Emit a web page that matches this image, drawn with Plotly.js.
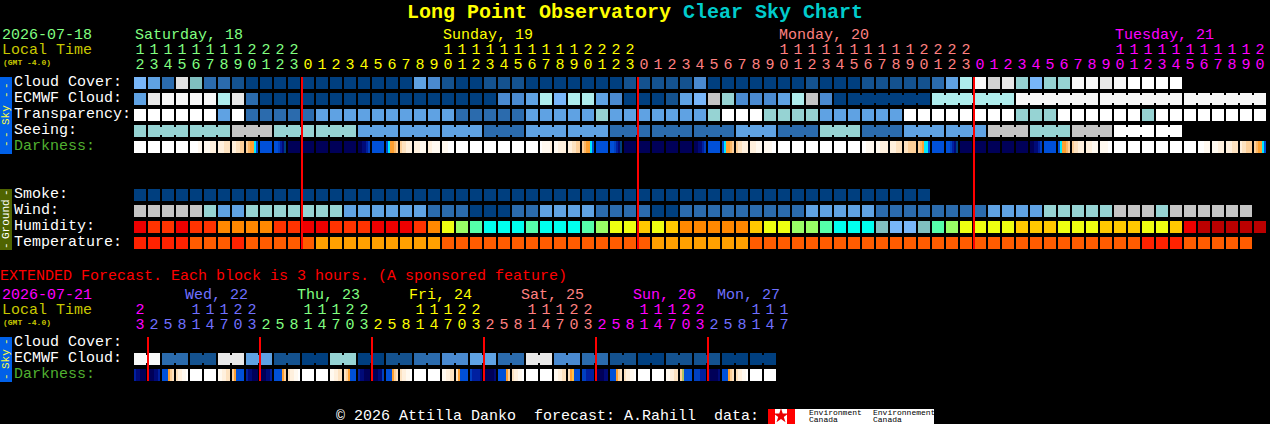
<!DOCTYPE html>
<html><head><meta charset="utf-8">
<script src="https://cdn.plot.ly/plotly-3.0.1.min.js"></script>
<style>html,body{margin:0;padding:0;background:#000;overflow:hidden}#c{width:1270px;height:424px}</style>
</head><body><div id="c"></div>
<script>
// ---------- data (colour class of each block) ----------
const cloudCover = "B5 B4 B2 L2 T1 B2 B2 B1 B0 B0 B0 B0 B0 B0 B0 B0 B0 B0 B0 B0 B4 B3 B1 B0 B0 B1 B1 B1 B0 B0 B0 B0 B0 B0 B0 B1 B1 B1 B1 B1 B3 B0 B0 B0 B0 B0 B0 B0 B1 B0 B0 B0 B1 B1 B1 B1 B1 B2 B4 T3 F GL L T2 B5 T2 T2 F F L F W W W W".split(" ");
const ecmwfCloud = "B4 L F F F F T3 L B2 B0 B0 B0 B0 B0 B0 B0 B0 B0 B0 B0 B0 B0 B0 B0 B0 B0 B3 B3 B4 T3 B5 T3 T3 B4 B3 B0 B0 B0 B1 B4 B5 G T2 B3 B3 B3 B4 T3 G B3 B0 B0 B0 B0 B0 B0 B0 T3 T3 T3 T3 T3 T3 F F F F F F F F F F F F F F F F F F".split(" ");
const transparency = "W W W W W W B4 W B2 B2 B2 B2 B2 B4 B4 B4 B4 B4 B4 B4 B4 B4 B4 B2 B2 B2 B2 B2 B4 B4 B4 B4 B4 T2 B4 B4 B4 B4 B4 B4 B4 T2 W W W T2 T2 T2 T2 B4 B4 B4 B4 B4 B4 W W W W W W W W T2 T2 T2 W W W W W W T2 W W W W W W W W".split(" ");
const seeing = "T2 T2 T2 T2 T2 T2 T2 G G G T2 T2 T2 T2 T2 T2 B4 B4 B4 B4 B4 B4 B4 B4 B4 B2 B2 B2 B4 B4 B4 B4 B4 B4 B2 B2 B2 B2 B2 B2 B2 B2 B2 B4 B4 B4 B2 B2 B2 T2 T2 T2 B2 B2 B2 B4 B4 B4 B4 B4 B4 G G G T2 T2 T2 G G G W W W W W".split(" ");
const darkness = ["WWWWWW","WWWWWW","WWWWWW","WWWWWW","WWWWaa","aaabbb","bbbccc","bbccdd","deffhi","iiiiii","iijkln","mmmmmm",
 "mmmmmm","mmmmmm","mmmmmm","mmmmmm","mmllkj","iiiiii","ihffed","dccbbb","bbbaaa","bbaaaa","aaaWWW","WWWWWW",
 "WWWWWW","WWWWWW","WWWWWW","WWWWWW","WWWWWW","Waaaab","aabbbb","bbccdd","deffhi","iiiiii","iijkln","mmmmmm",
 "mmmmmm","mmmmmm","mmmmmm","mmmmmm","mmllkj","iiiiii","ihffed","dccbbb","bbbaaa","aaaaWW","WWWWWW","WWWWWW",
 "WWWWWW","WWWWWW","WWWWWW","WWWWWW","WWaaaa","aabbbb","bbbccc","ccdddd","defhhi","iiiiii","iijkln","mmmmmm",
 "mmmmmm","mmmmmm","mmmmmm","mmmmmm","mmllkj","iiiiii","ihffed","dccbbb","bbbaaa","aaaaWW","WWWWWW","WWWWWW",
 "WWWWWW","WWWWWW","WWWWWW","WWWWWW","WWWaaa","aaabbb","bbbccc","bccddd","deffhi"];
const smoke = "B0 B0 B0 B0 B0 B0 B0 B0 B0 B0 B0 B0 B0 B0 B0 B0 B0 B0 B0 B0 B0 B0 B0 B0 B0 B0 B0 B0 B0 B0 B0 B0 B0 B0 B0 B0 B0 B0 B0 B0 B0 B0 B0 B0 B0 B0 B0 B0 B0 B0 B0 B0 B0 B0 B0 B0 B0".split(" ");
const wind = "G G G G G T2 B4 B4 T2 T2 T2 T2 T2 T2 T2 B4 B4 B4 B4 B4 B4 B2 B2 B2 B0 B0 B0 B2 B2 B4 B4 B4 B4 B2 B2 B2 B2 B0 B0 B2 B2 B2 B2 B2 B2 B2 B2 B2 B4 B4 B4 B4 B4 B2 B2 B2 B2 B2 B2 B2 B2 B4 B4 B4 B4 T2 T2 T2 T2 T2 G G G T2 G G G G G G".split(" ");
const humidity = "R1 R2 R2 R1 R2 R2 O O O O R2 R2 R1 R1 R2 R2 R2 R1 R1 R1 R2 O Y2 LG SG C C C SG C C C SG LG Y2 Y2 Y1 Y2 Y1 O O O O O Y1 Y2 Y2 LG LG SG C C C T1 B5 B5 T1 SG LG Y2 Y2 Y2 Y2 Y1 Y1 Y1 Y2 Y2 Y2 Y1 Y1 Y1 Y2 Y2 Y1 R1 DR DR DR DR DR".split(" ");
const temperature = "TR TR TR TR TO TO TO TR TO TO TO TO TO TA TA TA TA TA TA TA TA TA TO TO TO TO TO TO TO TO TO TO TO TO TO TO TO TA TA TA TA TA TA TA TO TO TO TO TO TO TO TO TO TO TO TO TO TO TO TO TO TO TO TO TO TO TO TO TO TO TO TO TR TR TR TO TO TO TO TO".split(" ");
const extEcmwf = "F F B2 B2 B1 B1 L L B4 B4 B1 B1 B0 B0 T2 T2 B0 B0 B1 B1 B2 B2 B3 B3 B4 B4 B2 B2 L L B3 B3 B2 B2 B1 B1 B0 B0 B1 B1 B1 B1 B0 B0 B0 B0".split(" ");
const extDarkness = ["kllmmm","mmmllk","iiifdc","cbbaaW","WWWWWW","WWWWWW","aabbcc","dfiiii",
 "kllmmm","mmmllk","iiiifd","cbbaaW","WWWWWW","WWWWWW","aabbcc","cdfiii",
 "kllmmm","mmmllj","iiifdc","cbbaaW","WWWWWW","WWWWWW","aabbcc","cfiiii",
 "jkkkkl","mmmmml","iiiifd","cbbaaW","WWWWWW","WWWWWW","aabbcc","cfgiii",
 "jjkkkk","mmmmll","iiifdc","cbbaaW","WWWWWW","WWWWWW","aabbcc","dyiiii",
 "jjjkkk","lmmmml","iiifdc","cbbaaW","WWWWWW","WWWWWW"];
const seeingGroups = [[1,3],[4,6],[7,9],[10,12],[13,15],[16,18],[19,21],[22,24],[25,27],[28,30],[31,33],[34,36],[37,39],[40,42],[43,45],[46,48],[49,51],[52,54],[55,57],[58,60],[61,63],[64,66],[67,69],[70,72],[73,74]];
const ecmwfGroups = [[51,56],[57,62],[63,68],[69,74],[75,80]];
const extEcmwfGroups = [[0,1],[2,3],[4,5],[6,7],[8,9],[10,11],[12,13],[14,15],[16,17],[18,19],[20,21],[22,23],[24,25],[26,27],[28,29],[30,31],[32,33],[34,35],[36,37],[38,39],[40,41],[42,43],[44,45]];
const hoursMain = [12,13,14,15,16,17,18,19,20,21,22,23,0,1,2,3,4,5,6,7,8,9,10,11,12,13,14,15,16,17,18,19,20,21,22,23,0,1,2,3,4,5,6,7,8,9,10,11,12,13,14,15,16,17,18,19,20,21,22,23,0,1,2,3,4,5,6,7,8,9,10,11,12,13,14,15,16,17,18,19,20];
const hoursExt  = [23,2,5,8,11,14,17,20,23,2,5,8,11,14,17,20,23,2,5,8,11,14,17,20,23,2,5,8,11,14,17,20,23,2,5,8,11,14,17,20,23,2,5,8,11,14,17];
const midnightMain = [12,36,60];
const midnightExt = [1,9,17,25,33,41];
const dayLabelsMain = [["Saturday, 18",135,"#80FF80"],["Sunday, 19",443,"#FFFF00"],["Monday, 20",779,"#FF8080"],["Tuesday, 21",1115,"#FF00FF"]];
const dayLabelsExt = [["Wed, 22",185,"#7070FF"],["Thu, 23",297,"#80FF80"],["Fri, 24",409,"#FFFF00"],["Sat, 25",521,"#FF8080"],["Sun, 26",633,"#FF00FF"],["Mon, 27",717,"#7070FF"]];

// ---------- palette ----------
const palette = {B0:"#003F7F",B1:"#14528F",B2:"#2B6BAD",B3:"#4A8AD0",B4:"#5FA2E3",B5:"#78B6F9",T1:"#80BFBF",T2:"#96D3D3",T3:"#AEECEC",G:"#C4C4C4",GL:"#D2D2D2",L2:"#E0E0E0",L:"#E8E8E8",F:"#F8F8F8",W:"#FFFFFF",
 R1:"#EE0000",R2:"#FF3300",O:"#FF8800",Y1:"#FFC800",Y2:"#EEFF11",LG:"#99FF66",SG:"#55FFAA",C:"#00FFEE",DR:"#BB0000",TR:"#FF2200",TO:"#FF5C00",TA:"#FFA000",
 a:"#FFF9F0",b:"#FFF0DD",c:"#FDE2C0",d:"#FDD09A",e:"#FBB868",f:"#FFA030",g:"#FFC040",h:"#00E8FF",i:"#0050D8",j:"#0040C0",k:"#0020A0",l:"#000A78",m:"#000058",y:"#B0C060"};
const keys = Object.keys(palette), N = keys.length;
const zOf = k => keys.indexOf(k)+0.5;
const colorscale = [];
keys.forEach((k,n)=>{colorscale.push([n/N,palette[k]]);colorscale.push([(n+1)/N,palette[k]]);});

// ---------- geometry ----------
const X0 = 140, PITCH = 14, CELL = 12, LINK_H = 8;
const base = {type:"heatmap",colorscale,zmin:0,zmax:N,showscale:false,hoverinfo:"skip",xaxis:"x",yaxis:"y"};
const traces = [];
function row(vals,yc){traces.push({...base,z:[vals.map(zOf)],x0:X0,dx:PITCH,y0:yc,dy:CELL,xgap:PITCH-CELL});}
function links(vals,groups,yc){
  const z = vals.map(()=>null);
  groups.forEach(([a,b])=>{for(let i=a;i<b;i++) z[i]=zOf(vals[i]);});
  traces.push({...base,z:[z],x0:X0+PITCH/2,dx:PITCH,y0:yc,dy:LINK_H,xgap:CELL});
}
function fineRow(cells,yc){
  const xs=[],z=[];
  cells.forEach((s,i)=>{const left=X0-CELL/2+PITCH*i;
    s.split("").forEach((ch,k)=>{xs.push(left+k*CELL/s.length);z.push(zOf(ch));});
    xs.push(left+CELL);z.push(null);});
  xs.push(X0-CELL/2+PITCH*cells.length);
  traces.push({...base,z:[z],x:xs,y0:yc,dy:CELL});
}
row(cloudCover,83);
row(ecmwfCloud,99); links(ecmwfCloud,ecmwfGroups,99);
row(transparency,115);
row(seeing,131); links(seeing,seeingGroups,131);
fineRow(darkness,147);
row(smoke,195); row(wind,211); row(humidity,227); row(temperature,243);
row(extEcmwf,359); links(extEcmwf,extEcmwfGroups,359);
fineRow(extDarkness,375);

// midnight lines
function redLines(cols,y1,y2){
  const xs=[],ys=[];
  cols.forEach(c=>{const x=X0-CELL/2+PITCH*c;xs.push(x,x,null);ys.push(y1,y2,null);});
  traces.push({type:"scatter",mode:"lines",x:xs,y:ys,line:{color:"#FF0000",width:2},hoverinfo:"skip",xaxis:"x",yaxis:"y"});
}
redLines(midnightMain,77,249);
redLines(midnightExt,337,381);

// hour digits
const FONT = "Liberation Mono";
const colorMain = i => i<12?"#80FF80":i<36?"#FFFF00":i<60?"#FF8080":"#FF00FF";
const colorExt = i => i<1?"#FF00FF":i<9?"#7070FF":i<17?"#80FF80":i<25?"#FFFF00":i<33?"#FF8080":i<41?"#FF00FF":"#7070FF";
function digits(hours,colorFn,yTens,yUnits){
  const xs=hours.map((h,i)=>X0+PITCH*i), cols=hours.map((h,i)=>colorFn(i));
  const t={type:"scatter",mode:"text",hoverinfo:"skip",x:xs,textposition:"middle center",textfont:{family:FONT,size:15,color:cols}};
  traces.push({...t,y:hours.map(()=>yTens),text:hours.map(h=>h>=10?String(Math.floor(h/10)):"")});
  traces.push({...t,y:hours.map(()=>yUnits),text:hours.map(h=>String(h%10))});
}
digits(hoursMain,colorMain,50,65);
digits(hoursExt,colorExt,310,325);

// flag leaf
traces.push({type:"scatter",mode:"markers",x:[781],y:[416],marker:{symbol:"star",size:11,color:"#E80000"},hoverinfo:"skip"});

// ---------- annotations ----------
const ann=[];
function label(text,x,y,color,size=15,extra={}){
  ann.push({text,x,y,xref:"x",yref:"y",xanchor:"left",yanchor:"middle",showarrow:false,borderpad:0,borderwidth:0,
    font:{family:FONT,size,color},...extra});
}
label("<b>Long Point Observatory</b>",407,12,"#FFFF00",20);
label("<b>Clear Sky Chart</b>",683,12,"#00CCCC",20);
label("2026-07-18",2,35,"#80FF80");
label("Local Time",2,50,"#C8C800");
label("<b>(GMT -4.0)</b>",3,62,"#C8C800",8);
dayLabelsMain.forEach(d=>label(d[0],d[1],35,d[2]));
[["Cloud Cover:",82],["ECMWF Cloud:",98],["Transparency:",114],["Seeing:",130]].forEach(r=>label(r[0],14,r[1],"#FFFFFF"));
label("Darkness:",14,146,"#50B030");
[["Smoke:",194],["Wind:",210],["Humidity:",226],["Temperature:",242]].forEach(r=>label(r[0],14,r[1],"#FFFFFF"));
label("EXTENDED Forecast. Each block is 3 hours. (A sponsored feature)",0,276,"#FF0000");
label("2026-07-21",2,295,"#FF00FF");
label("Local Time",2,310,"#C8C800");
label("<b>(GMT -4.0)</b>",3,322,"#C8C800",8);
dayLabelsExt.forEach(d=>label(d[0],d[1],295,d[2]));
label("Cloud Cover:",14,342,"#FFFFFF");
label("ECMWF Cloud:",14,358,"#FFFFFF");
label("Darkness:",14,374,"#50B030");
label("© 2026 Attilla Danko  forecast: A.Rahill  data:",336,416,"#FFFFFF");
label("Environment",809,412.5,"#000000",8);
label("Canada",809,419,"#000000",8);
label("Environnement",873,412.5,"#000000",8);
label("Canada",873,419,"#000000",8);
function vertical(text,y,color,size=11){ann.push({text,x:6,y,xref:"x",yref:"y",xanchor:"center",yanchor:"middle",showarrow:false,textangle:-90,borderpad:0,font:{family:FONT,size,color}});}
[["-",86],["-",95],["Sky",115],["-",135],["-",144]].forEach(p=>vertical(p[0],p[1],"#FFFF40"));
[["-",193],["Ground",219],["-",246]].forEach(p=>vertical(p[0],p[1],"#FFFFFF"));
[["-",342],["Sky",359],["-",377]].forEach(p=>vertical(p[0],p[1],"#FFFF40"));

const rect=(x0,x1,y0,y1,c)=>({type:"rect",xref:"x",yref:"y",x0,x1,y0,y1,fillcolor:c,line:{width:0},layer:"below"});
const shapes=[rect(0,12,77,154,"#0060E8"),rect(0,12,189,250,"#4F6400"),rect(0,12,337,382,"#0060E8"),
  rect(768,934,409,424,"#FFFFFF"),rect(768,775,409,424,"#FF0000"),rect(787,795,409,424,"#FF0000")];

Plotly.newPlot("c",traces,{
  width:1270,height:424,margin:{l:0,r:0,t:0,b:0,pad:0},paper_bgcolor:"#000",plot_bgcolor:"#000",showlegend:false,
  xaxis:{range:[0,1270],visible:false,fixedrange:true},
  yaxis:{range:[424,0],visible:false,fixedrange:true},
  annotations:ann,shapes
},{displayModeBar:false,staticPlot:true});
</script></body></html>
